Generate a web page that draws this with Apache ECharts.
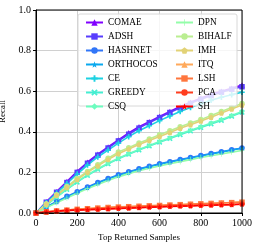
<!DOCTYPE html>
<html><head><meta charset="utf-8">
<script src="https://cdn.jsdelivr.net/npm/echarts@6/dist/echarts.min.js"></script>
<style>html,body{margin:0;padding:0;background:#fff}#c{width:258px;height:247px}</style>
</head><body><div id="c"></div>
<script>
const xValues = [0,50,100,150,200,250,300,350,400,450,500,550,600,650,700,750,800,850,900,950,1000];
const seriesNames = ['COMAE','ADSH','HASHNET','ORTHOCOS','CE','GREEDY','CSQ','DPN','BIHALF','IMH','ITQ','LSH','PCA','SH'];
const COMAE    = [0,.055,.105,.155,.205,.25,.29,.325,.36,.395,.425,.45,.475,.50,.525,.545,.565,.585,.60,.615,.63];
const ADSH     = [0,.053,.102,.15,.2,.245,.285,.32,.355,.388,.418,.445,.47,.495,.518,.54,.56,.578,.595,.61,.622];
const HASHNET  = [0,.03,.057,.082,.105,.128,.15,.17,.188,.203,.218,.23,.242,.253,.263,.273,.283,.293,.302,.311,.32];
const ORTHOCOS = [0,.028,.054,.079,.102,.125,.147,.167,.185,.2,.215,.228,.24,.251,.261,.271,.281,.291,.3,.31,.319];
const CE       = [0,.05,.098,.145,.192,.236,.276,.31,.344,.376,.405,.43,.455,.478,.5,.52,.538,.555,.57,.583,.595];
const GREEDY   = [0,.039,.078,.116,.152,.185,.215,.242,.267,.289,.31,.33,.349,.367,.386,.404,.421,.439,.456,.476,.496];
const CSQ      = [0,.04,.08,.118,.155,.188,.218,.245,.27,.292,.313,.333,.352,.37,.39,.408,.425,.443,.46,.48,.5];
const DPN      = [0,.026,.05,.074,.097,.12,.14,.16,.178,.194,.208,.22,.232,.243,.253,.263,.273,.282,.291,.3,.308];
const BIHALF   = [0,.045,.09,.13,.17,.205,.238,.27,.3,.322,.345,.365,.385,.405,.425,.443,.46,.48,.5,.52,.54];
const IMH      = [0,.043,.087,.126,.165,.2,.232,.263,.292,.315,.337,.357,.377,.397,.417,.435,.453,.472,.492,.512,.532];
const ITQ      = [0,.006,.011,.015,.019,.022,.025,.028,.03,.032,.034,.036,.038,.04,.042,.044,.046,.048,.05,.052,.055];
const LSH      = [0,.006,.01,.014,.018,.021,.024,.027,.029,.031,.033,.035,.037,.039,.041,.043,.045,.047,.049,.051,.053];
const PCA      = [0,.005,.009,.012,.015,.017,.019,.021,.023,.025,.027,.029,.031,.033,.035,.036,.038,.039,.041,.042,.044];
const SH       = [0,.005,.009,.012,.014,.016,.018,.02,.022,.024,.026,.028,.03,.032,.034,.035,.037,.038,.04,.041,.043];
const seriesData = [COMAE,ADSH,HASHNET,ORTHOCOS,CE,GREEDY,CSQ,DPN,BIHALF,IMH,ITQ,LSH,PCA,SH];
const colors = ['#8000ff','#583dfd','#3176f8','#0aa9ee','#1dd2e2','#45eed2','#6cfdbf','#93fda9','#baee91','#e2d276','#ffa95b','#ff763d','#ff3d1f','#ff0000'];
const xTickLabels = ['0','200','400','600','800','1000'];
const yTickLabels = ['0.0','0.2','0.4','0.6','0.8','1.0'];

const STAR = 'path://M0,-10 L2.35,-3.24 9.51,-3.09 3.8,1.24 5.88,8.09 0,4 -5.88,8.09 -3.8,1.24 -9.51,-3.09 -2.35,-3.24Z';
const PLUSB = 'path://M-3,-10 H3 V-3 H10 V3 H3 V10 H-3 V3 H-10 V-3 H-3Z';
const XB = 'path://M-6.4,-10.6 L0,-4.2 6.4,-10.6 10.6,-6.4 4.2,0 10.6,6.4 6.4,10.6 0,4.2 -6.4,10.6 -10.6,6.4 -4.2,0 -10.6,-6.4Z';
const PLUS = 'path://M-1,-10 H1 V-1 H10 V1 H1 V10 H-1 V1 H-10 V-1 H-1Z';
const PENT = 'path://M0,-10 L9.51,-3.09 5.88,8.09 -5.88,8.09 -9.51,-3.09Z';
const symbols = ['triangle','rect','circle',STAR,PLUSB,XB,'diamond',PLUS,'circle',PENT,'triangle','rect','circle',STAR];

const font = 'Liberation Serif';
const chart = echarts.init(document.getElementById('c'), null, {renderer:'canvas'});
const series = seriesNames.map((n,i)=>({
  name:n, type:'line', data: xValues.map((x,j)=>[x, seriesData[i][j]]),
  symbol: symbols[i], symbolSize: 5.5, showSymbol:true,
  lineStyle:{width:1.6, color:colors[i]}, itemStyle:{color:colors[i]},
  emphasis:{disabled:true}, animation:false
}));
const legendCommon = {orient:'vertical', padding:0, itemWidth:17, itemHeight:8, itemGap:5,
  textStyle:{fontFamily:font, fontSize:9.3, color:'#000', lineHeight:8}, z:10};
chart.setOption({
  animation:false,
  grid:{left:36, right:16, top:10, bottom:34, show:false, containLabel:false, outerBoundsMode:'none'},
  xAxis:{type:'value', min:0, max:1000, interval:200,
    name:'Top Returned Samples', nameLocation:'middle', nameGap:19,
    nameTextStyle:{fontFamily:font, fontSize:9, color:'#000'},
    axisLine:{show:true, onZero:false, lineStyle:{color:'#000', width:1}},
    axisTick:{show:true, length:3, lineStyle:{color:'#000'}},
    axisLabel:{fontFamily:font, fontSize:10, color:'#000', margin:5, formatter:v=>xTickLabels[Math.round(v/200)]},
    splitLine:{show:true, lineStyle:{color:'#d0d0d0', width:1}}},
  yAxis:{type:'value', min:0, max:1, interval:0.2,
    name:'Recall', nameLocation:'middle', nameGap:22,
    nameTextStyle:{fontFamily:font, fontSize:9, color:'#000'},
    axisLine:{show:true, lineStyle:{color:'#000', width:1}},
    axisTick:{show:true, length:3, lineStyle:{color:'#000'}},
    axisLabel:{fontFamily:font, fontSize:10, color:'#000', margin:5, formatter:v=>yTickLabels[Math.round(v/0.2)]},
    splitLine:{show:true, lineStyle:{color:'#d0d0d0', width:1}}},
  graphic:[
    {type:'rect', shape:{x:36, y:10, width:206, height:203}, style:{fill:'none', stroke:'#000', lineWidth:1}, z:5, silent:true},
    {type:'rect', shape:{x:78, y:14, width:159, height:92, r:2}, style:{fill:'rgba(255,255,255,0.8)', stroke:'#d8d8d8', lineWidth:1}, z:9, silent:true}
  ],
  legend:[
    Object.assign({left:85, top:18, data:seriesNames.slice(0,7)}, legendCommon),
    Object.assign({left:175, top:18, data:seriesNames.slice(7)}, legendCommon)
  ],
  series
});
</script></body></html>
